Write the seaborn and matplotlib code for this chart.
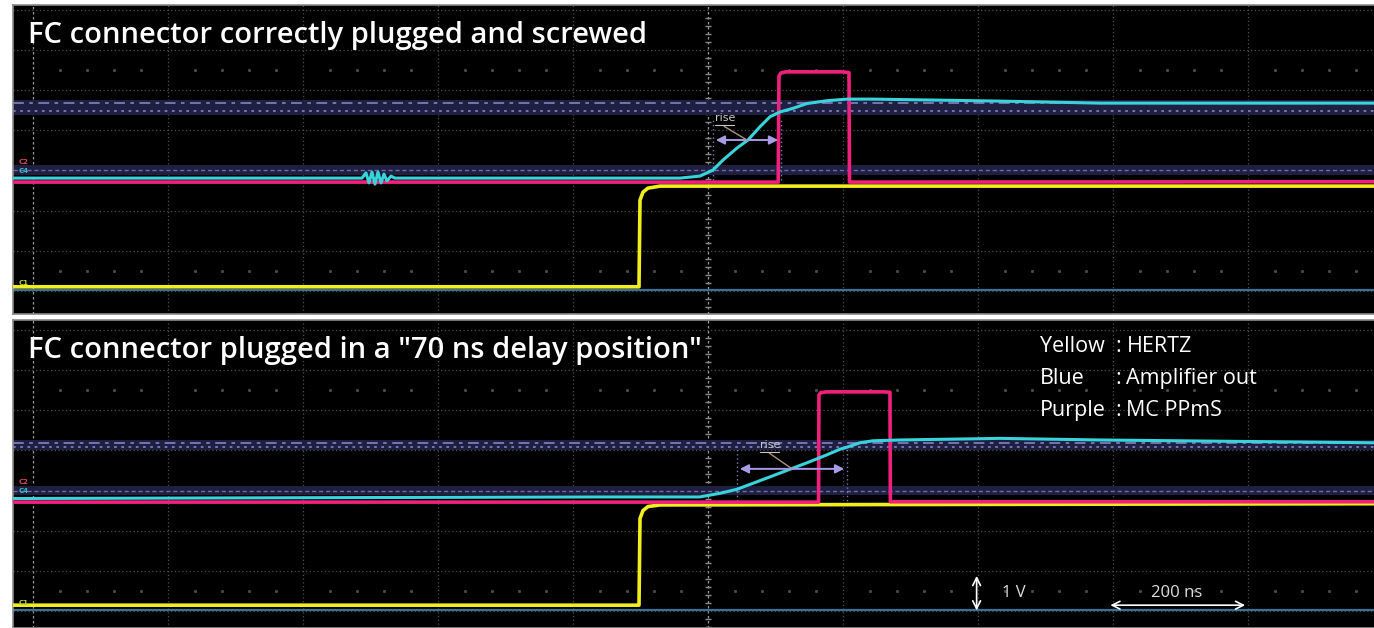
import numpy as np
import pandas as pd
import seaborn as sns
import matplotlib.pyplot as plt

# ---------------- data (200 ns/div, 1 V/div, t=0 at trigger line) ----------------
T_RANGE = (-1029.6, 986.7)
TOP_YLIM = (-3.579, 4.127)
BOT_YLIM = (-3.429, 4.252)
GRID_T = [-1000, -800, -600, -400, -200, 0, 200, 400, 600, 800, 1000]
GRID_V = [-4, -3, -2, -1, 0, 1, 2, 3, 4]

titles = ["FC connector correctly plugged and screwed",
          "FC connector plugged in a \"70 ns delay position\""]

# top panel traces
top_cyan_t = [-1029.6, -512.6, -506.7, -502.2, -497.8, -493.3, -488.9, -484.4, -480.0,
              -475.6, -469.6, -463.7, -41.5, -11.9, 7.4, 22.2, 43.0, 59.3, 77.0, 91.9,
              106.7, 125.9, 146.7, 176.3, 205.9, 244.4, 432.6, 580.7, 986.7]
top_cyan_v = [-0.19, -0.19, -0.06, -0.31, -0.04, -0.34, -0.04, -0.31, -0.09,
              -0.26, -0.14, -0.19, -0.19, -0.14, 0.01, 0.26, 0.56, 0.76, 1.09, 1.34,
              1.46, 1.55, 1.67, 1.74, 1.78, 1.78, 1.73, 1.68, 1.68]
top_mag_t = [-1029.6, 104.0, 105.2, 108.0, 115.0, 200.0, 208.9, 209.6, 986.7]
top_mag_v = [-0.29, -0.29, 2.36, 2.43, 2.46, 2.46, 2.44, -0.29, -0.28]
top_yel_t = [-1029.6, -102.2, -100.7, -96.3, -88.9, -71.1, 986.7]
top_yel_v = [-2.90, -2.90, -0.74, -0.54, -0.44, -0.39, -0.39]

# bottom panel traces
bot_cyan_t = [-1029.6, -160.0, -11.9, 17.8, 43.0, 66.7, 91.9, 121.5, 151.1, 176.3,
              195.6, 205.9, 225.2, 244.4, 284.4, 432.6, 580.7, 986.7]
bot_cyan_v = [-0.20, -0.16, -0.16, -0.07, 0.03, 0.18, 0.34, 0.53, 0.72, 0.89,
              1.03, 1.08, 1.19, 1.24, 1.26, 1.30, 1.26, 1.19]
bot_mag_t = [-1029.6, 163.8, 164.4, 167.0, 175.0, 260.0, 269.6, 270.2, 986.7]
bot_mag_v = [-0.29, -0.29, 2.38, 2.44, 2.46, 2.46, 2.45, -0.28, -0.28]
bot_yel_t = [-1029.6, -102.2, -100.7, -96.3, -88.9, -71.1, 986.7]
bot_yel_v = [-2.86, -2.86, -0.70, -0.50, -0.40, -0.36, -0.33]

# cursor / threshold bands (low, high) and reference lines
top_bands = [(1.38, 1.76), (-0.11, 0.14)]
top_dashdot, top_dotted, top_ref0 = 1.68, 1.49, 0.0
bot_bands = [(1.01, 1.26), (-0.11, 0.10)]
bot_dashdot, bot_dotted, bot_ref0 = 1.18, 1.09, 0.0

# rise-time measurements: (t_start, t_end, arrow_v, label_t, label_v, cursor_v_low, cursor_v_high)
top_rise = (7.4, 108.1, 0.76, 10.0, 1.31, -0.24, 1.26)
bot_rise = (43.0, 206.0, 0.54, 77.0, 1.14, -0.36, 1.09)

legend_names = ["Yellow", "Blue", "Purple"]
legend_values = ["HERTZ", "Amplifier out", "MC PPmS"]

# ---------------- style ----------------
sns.set_theme(style="dark")
plt.rcParams['font.family'] = ['Open Sans', 'DejaVu Sans']

C_YEL = '#f2ee1e'
C_CYAN = '#38d4dc'
C_MAG = '#f0207c'
C_GRID = '#4e4e4e'

fig = plt.figure(figsize=(13.74, 6.28), dpi=100, facecolor='white')
ax_top = fig.add_axes([13 / 1374, 1 - 314 / 628, 1361 / 1374, 309 / 628])
ax_bot = fig.add_axes([13 / 1374, 0, 1361 / 1374, 308 / 628])


def scope_frame(ax, ylim):
    ax.set_facecolor('black')
    ax.set_xlim(*T_RANGE)
    ax.set_ylim(*ylim)
    ax.set_xticks([])
    ax.set_yticks([])
    ax.set_xlabel('')
    ax.set_ylabel('')
    ax.grid(False)
    for name, sp in ax.spines.items():
        sp.set_visible(name != 'right')
        sp.set_color('#8a8a8a')
        sp.set_linewidth(1.2)
    for t in GRID_T:
        bright = t in (0, -1000)
        ax.axvline(t, color='#9a9a9a' if bright else C_GRID, lw=0.9,
                   ls=(0, (2, 2)) if bright else (0, (1, 2)), zorder=1)
    for v in GRID_V:
        ax.axhline(v, color=C_GRID, lw=0.9, ls=(0, (1, 2)), zorder=1)
    # minor graticule dots
    minor_t = [t for t in np.arange(-1000, 1001, 40) if t % 200 != 0]
    for v in (2.5, -2.5):
        ax.plot(minor_t, [v] * len(minor_t), ls='none', marker='s', ms=1.1,
                color='#4a4a4a', zorder=1)
    minor_v = [v for v in np.arange(-4, 4.01, 0.2) if abs(v - round(v)) > 1e-6]
    ax.plot([0] * len(minor_v), minor_v, ls='none', marker='_', ms=5,
            color='#8a8a8a', zorder=1)
    # steel-blue ground reference
    ax.axhline(-2.98, color='#3a7198', lw=1.6, zorder=2)


def bands(ax, band_list, dashdot, dotted, ref0):
    for lo, hi in band_list:
        ax.axhspan(lo, hi, color='#1f1f42', zorder=1.5, lw=0)
    ax.axhline(dashdot, color='#7b7bb8', lw=1.3, ls=(0, (6, 3, 2, 3)), zorder=1.6)
    ax.axhline(dotted, color='#7b7bb8', lw=1.3, ls=(0, (1.5, 2.5)), zorder=1.6)
    ax.axhline(ref0, color='#6c6ca8', lw=1.0, ls=(0, (3, 2)), zorder=1.6)


def traces(ax, yt, yv, mt, mv, ct, cv):
    df = pd.concat([
        pd.DataFrame({'t': yt, 'v': yv, 'ch': 'C1'}),
        pd.DataFrame({'t': mt, 'v': mv, 'ch': 'C2'}),
        pd.DataFrame({'t': ct, 'v': cv, 'ch': 'C4'}),
    ])
    for ch, col, lw in (('C1', C_YEL, 2.6), ('C2', C_MAG, 2.6), ('C4', C_CYAN, 2.2)):
        d = df[df.ch == ch]
        sns.lineplot(data=d, x='t', y='v', ax=ax, color=col, lw=lw,
                     sort=False, estimator=None, zorder=4)
    ax.set_xlabel('')
    ax.set_ylabel('')


def rise(ax, r):
    t0, t1, av, lt, lv, vlo, vhi = r
    for t in (t0, t1):
        ax.plot([t, t], [vlo, vhi], color='#7b7bb8', lw=1.0, ls=(0, (1, 2)), zorder=3)
    ax.annotate('', xy=(t1, av), xytext=(t0, av),
                arrowprops=dict(arrowstyle='<|-|>', color='#a79be8', lw=1.4,
                                mutation_scale=13), zorder=5)
    ax.text(lt, lv, 'rise', color='#c8c8c8', fontsize=8, ha='left', va='center',
            family=['DejaVu Sans'], zorder=6)
    ax.plot([lt, lt + 28], [lv - 0.18, lv - 0.18], color='#c8c8c8', lw=0.8, zorder=6)
    ax.plot([lt + 14, (t0 + t1) / 2], [lv - 0.21, av], color='#a8967a', lw=1.0, zorder=5)


def channel_marks(ax):
    ax.text(-1022, 0.2, 'C2', color='#d04a60', fontsize=5, fontweight='bold',
            family=['DejaVu Sans'], va='center', zorder=6)
    ax.text(-1022, -0.02, 'C4', color='#40b8c8', fontsize=5, fontweight='bold',
            family=['DejaVu Sans'], va='center', zorder=6)
    ax.text(-1022, -2.80, 'C1', color='#b8d040', fontsize=5, fontweight='bold',
            family=['DejaVu Sans'], va='center', zorder=6)


for ax, ylim, bl, dd, dt, r0, tr, rr, title, tv in (
        (ax_top, TOP_YLIM, top_bands, top_dashdot, top_dotted, top_ref0,
         (top_yel_t, top_yel_v, top_mag_t, top_mag_v, top_cyan_t, top_cyan_v), top_rise,
         titles[0], 3.18),
        (ax_bot, BOT_YLIM, bot_bands, bot_dashdot, bot_dotted, bot_ref0,
         (bot_yel_t, bot_yel_v, bot_mag_t, bot_mag_v, bot_cyan_t, bot_cyan_v), bot_rise,
         titles[1], 3.30)):
    scope_frame(ax, ylim)
    bands(ax, bl, dd, dt, r0)
    traces(ax, *tr)
    rise(ax, rr)
    channel_marks(ax)
    ax.text(-1007, tv, title, color='white', fontsize=21, fontweight='semibold',
            ha='left', va='baseline', zorder=7)

# legend text (bottom panel)
for i, (nm, val) in enumerate(zip(legend_names, legend_values)):
    v = 3.45 - 0.80 * i
    ax_bot.text(492, v, nm, color='white', fontsize=15.5, ha='left', va='baseline', zorder=7)
    ax_bot.text(603, v, ':', color='white', fontsize=15.5, ha='left', va='baseline', zorder=7)
    ax_bot.text(620, v, val, color='white', fontsize=15.5, ha='left', va='baseline', zorder=7)

# scale annotations
ax_bot.annotate('', xy=(398, -3.06), xytext=(398, -2.06),
                arrowprops=dict(arrowstyle='<->', color='white', lw=1.2, mutation_scale=14),
                zorder=7)
ax_bot.text(435, -2.56, '1 V', color='#e0e0e0', fontsize=12, ha='left', va='center', zorder=7)
ax_bot.annotate('', xy=(800, -2.86), xytext=(592, -2.86),
                arrowprops=dict(arrowstyle='<->', color='white', lw=1.2, mutation_scale=14),
                zorder=7)
ax_bot.text(695, -2.56, '200 ns', color='#e0e0e0', fontsize=12, ha='center', va='center',
            zorder=7)

fig.savefig('out.png', dpi=100, facecolor='white')
